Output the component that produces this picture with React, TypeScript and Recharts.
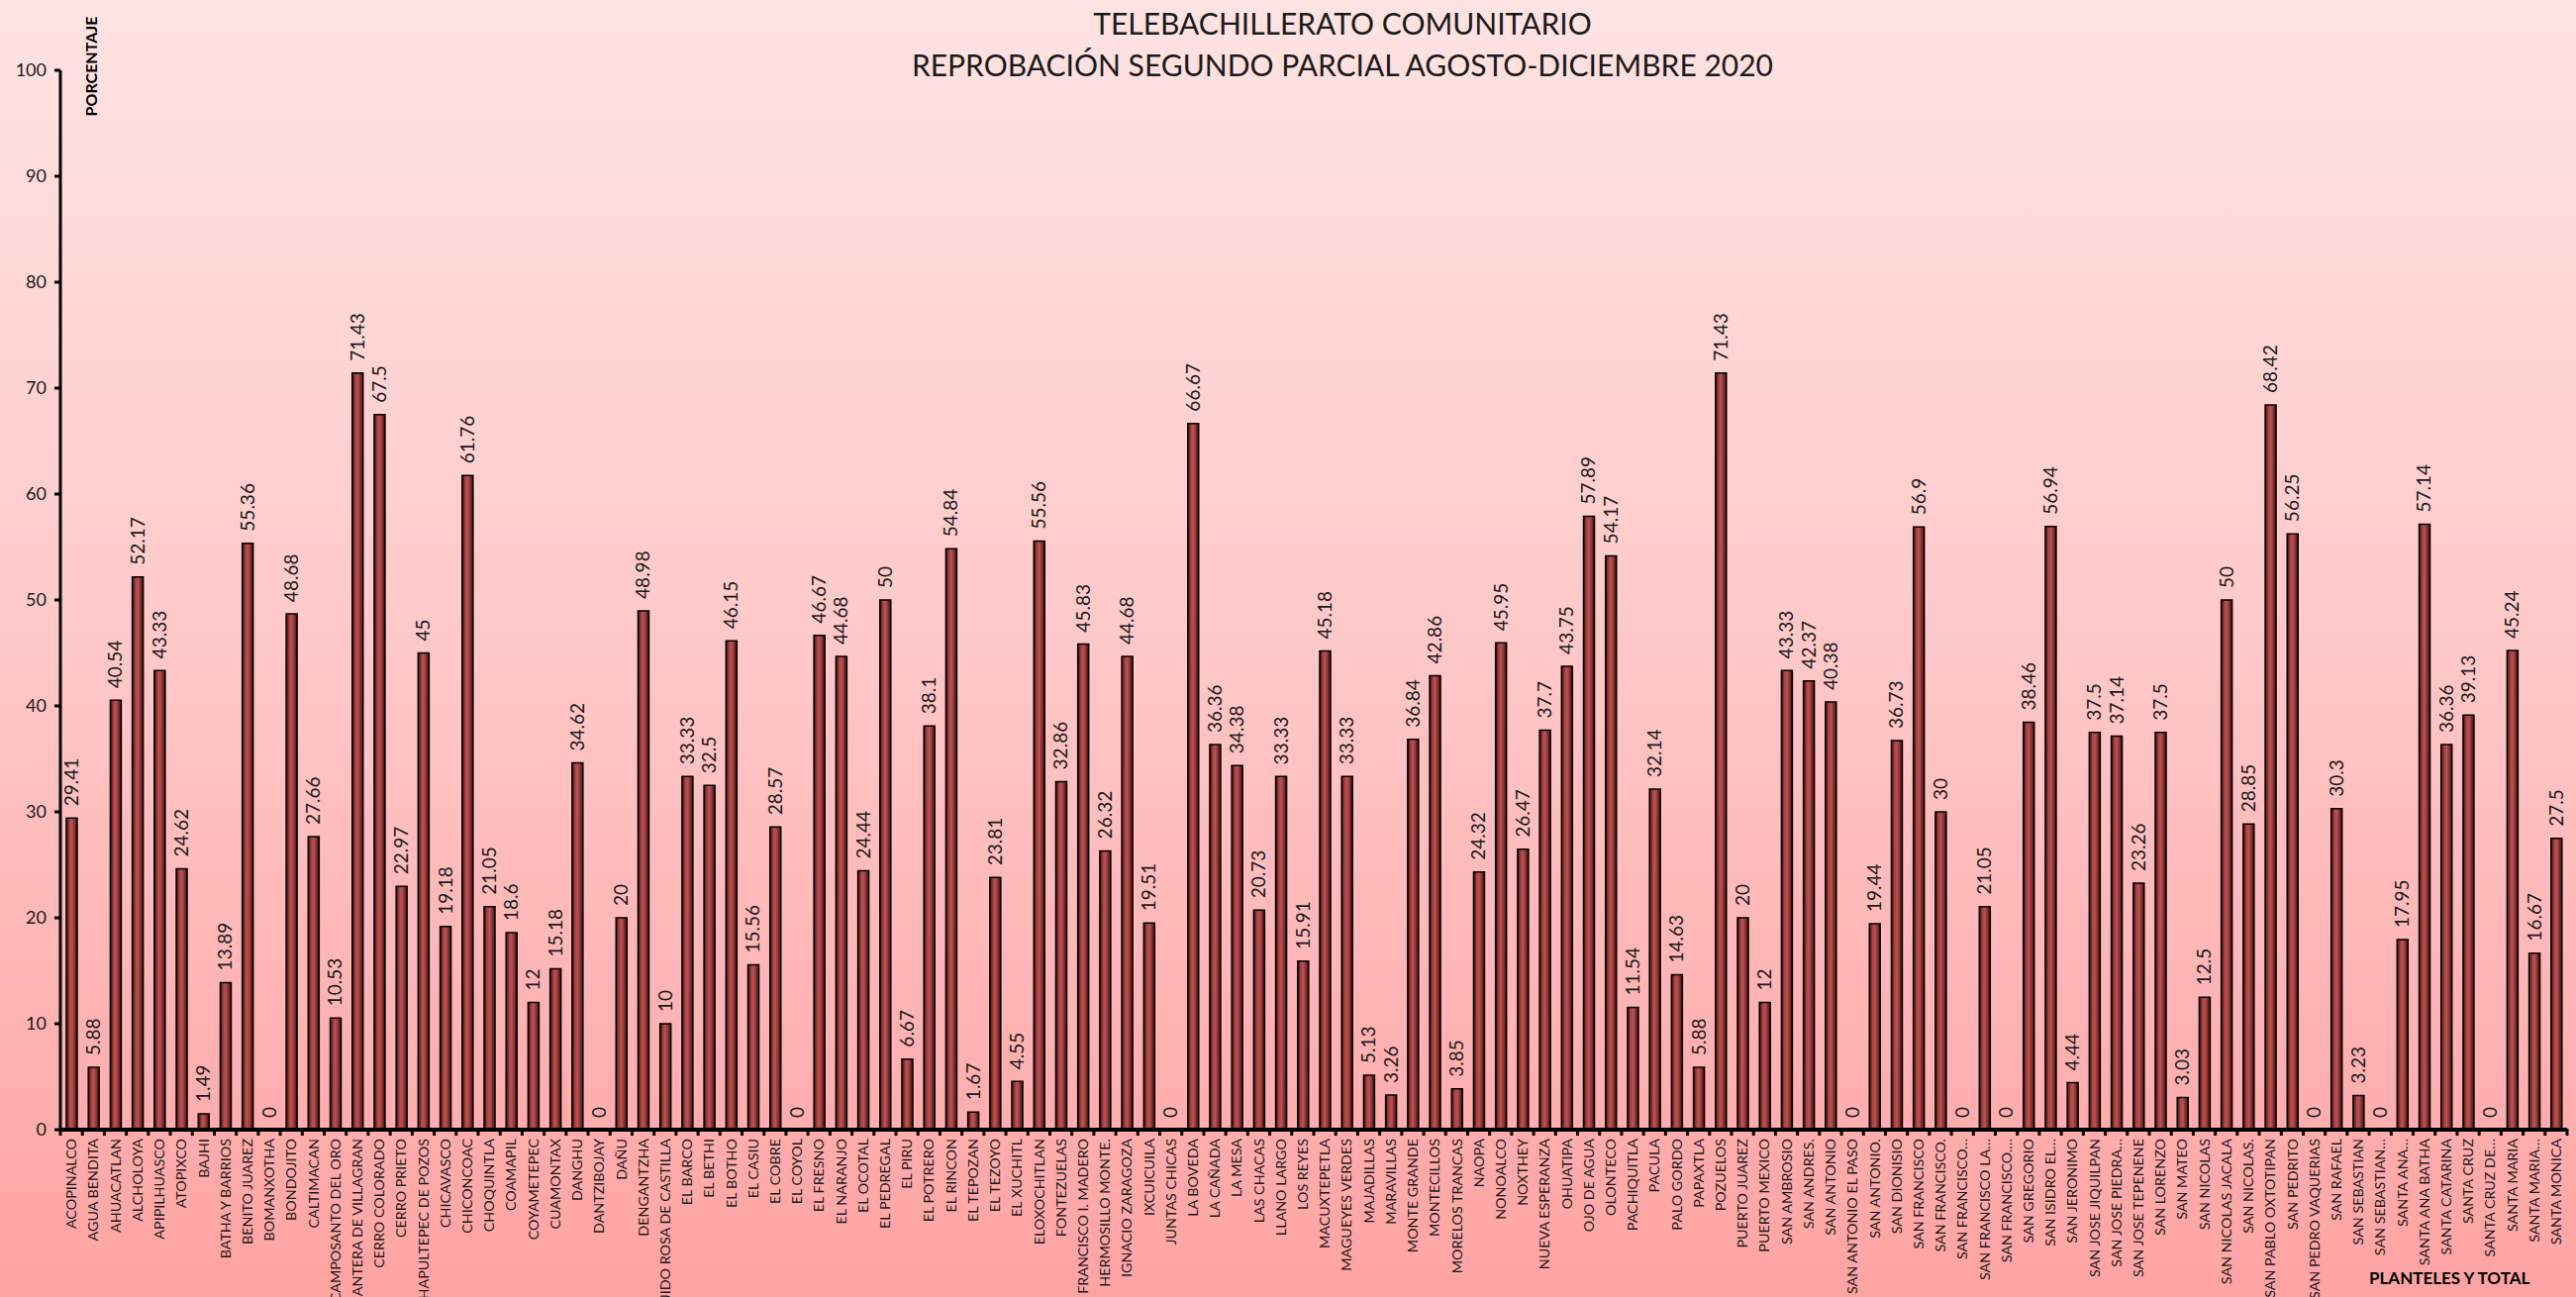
import React from 'react';
import { ComposedChart, Bar, Line, XAxis, YAxis, LabelList } from 'recharts';

const categories: string[] = [
  'ACOPINALCO', 'AGUA BENDITA', 'AHUACATLAN', 'ALCHOLOYA', 'APIPILHUASCO', 'ATOPIXCO', 'BAJHI',
  'BATHA Y BARRIOS', 'BENITO JUAREZ', 'BOMANXOTHA', 'BONDOJITO', 'CALTIMACAN', 'CAMPOSANTO DEL ORO',
  'CANTERA DE VILLAGRAN', 'CERRO COLORADO', 'CERRO PRIETO', 'CHAPULTEPEC DE POZOS', 'CHICAVASCO',
  'CHICONCOAC', 'CHOQUINTLA', 'COAMAPIL', 'COYAMETEPEC', 'CUAMONTAX', 'DANGHU', 'DANTZIBOJAY', 'DAÑU',
  'DENGANTZHA', 'EJIDO ROSA DE CASTILLA', 'EL BARCO', 'EL BETHI', 'EL BOTHO', 'EL CASIU', 'EL COBRE',
  'EL COYOL', 'EL FRESNO', 'EL NARANJO', 'EL OCOTAL', 'EL PEDREGAL', 'EL PIRU', 'EL POTRERO', 'EL RINCON',
  'EL TEPOZAN', 'EL TEZOYO', 'EL XUCHITL', 'ELOXOCHITLAN', 'FONTEZUELAS', 'FRANCISCO I. MADERO',
  'HERMOSILLO MONTE.', 'IGNACIO ZARAGOZA', 'IXCUICUILA', 'JUNTAS CHICAS', 'LA BOVEDA', 'LA CAÑADA',
  'LA MESA', 'LAS CHACAS', 'LLANO LARGO', 'LOS REYES', 'MACUXTEPETLA', 'MAGUEYES VERDES', 'MAJADILLAS',
  'MARAVILLAS', 'MONTE GRANDE', 'MONTECILLOS', 'MORELOS TRANCAS', 'NAOPA', 'NONOALCO', 'NOXTHEY',
  'NUEVA ESPERANZA', 'OHUATIPA', 'OJO DE AGUA', 'OLONTECO', 'PACHIQUITLA', 'PACULA', 'PALO GORDO',
  'PAPAXTLA', 'POZUELOS', 'PUERTO JUAREZ', 'PUERTO MEXICO', 'SAN AMBROSIO', 'SAN ANDRES.', 'SAN ANTONIO',
  'SAN ANTONIO EL PASO', 'SAN ANTONIO.', 'SAN DIONISIO', 'SAN FRANCISCO', 'SAN FRANCISCO.',
  'SAN FRANCISCO…', 'SAN FRANCISCO LA…', 'SAN FRANCISCO.…', 'SAN GREGORIO', 'SAN ISIDRO EL…',
  'SAN JERONIMO', 'SAN JOSE JIQUILPAN', 'SAN JOSE PIEDRA…', 'SAN JOSE TEPENENE', 'SAN LORENZO',
  'SAN MATEO', 'SAN NICOLAS', 'SAN NICOLAS JACALA', 'SAN NICOLAS.', 'SAN PABLO OXTOTIPAN', 'SAN PEDRITO',
  'SAN PEDRO VAQUERIAS', 'SAN RAFAEL', 'SAN SEBASTIAN', 'SAN SEBASTIAN…', 'SANTA ANA…', 'SANTA ANA BATHA',
  'SANTA CATARINA', 'SANTA CRUZ', 'SANTA CRUZ DE…', 'SANTA MARIA', 'SANTA MARIA…', 'SANTA MONICA',
];

const values: number[] = [
  29.41, 5.88, 40.54, 52.17, 43.33, 24.62, 1.49, 13.89, 55.36, 0, 48.68, 27.66, 10.53, 71.43, 67.5,
  22.97, 45, 19.18, 61.76, 21.05, 18.6, 12, 15.18, 34.62, 0, 20, 48.98, 10, 33.33, 32.5, 46.15, 15.56,
  28.57, 0, 46.67, 44.68, 24.44, 50, 6.67, 38.1, 54.84, 1.67, 23.81, 4.55, 55.56, 32.86, 45.83, 26.32,
  44.68, 19.51, 0, 66.67, 36.36, 34.38, 20.73, 33.33, 15.91, 45.18, 33.33, 5.13, 3.26, 36.84, 42.86,
  3.85, 24.32, 45.95, 26.47, 37.7, 43.75, 57.89, 54.17, 11.54, 32.14, 14.63, 5.88, 71.43, 20, 12, 43.33,
  42.37, 40.38, 0, 19.44, 36.73, 56.9, 30, 0, 21.05, 0, 38.46, 56.94, 4.44, 37.5, 37.14, 23.26, 37.5,
  3.03, 12.5, 50, 28.85, 68.42, 56.25, 0, 30.3, 3.23, 0, 17.95, 57.14, 36.36, 39.13, 0, 45.24, 16.67, 27.5,
];

const yTicks: number[] = [0, 10, 20, 30, 40, 50, 60, 70, 80, 90, 100];

const titleLines: string[] = ['TELEBACHILLERATO COMUNITARIO', 'REPROBACIÓN SEGUNDO PARCIAL AGOSTO-DICIEMBRE 2020'];
const yAxisTitle = 'PORCENTAJE';
const xAxisTitle = 'PLANTELES Y TOTAL';

const data = categories.map((name, i) => ({ name, value: values[i] }));

const W = 2602;
const H = 1310;
const FONT = 'Lato, "Open Sans", "Liberation Sans", sans-serif';

const XTick = (props: any) => {
  const { x, y, payload, index } = props;
  const half = payload && payload.offset ? payload.offset : 11.1;
  const axisY = y;
  return (
    <g>
      <line x1={x - half} x2={x - half} y1={axisY - 1} y2={axisY + 6} stroke="#000" strokeWidth={3} />
      {index === categories.length - 1 ? (
        <line x1={x + half} x2={x + half} y1={axisY - 1} y2={axisY + 6} stroke="#000" strokeWidth={3} />
      ) : null}
      <text
        x={x}
        y={axisY + 9}
        transform={`rotate(-90 ${x} ${axisY + 9})`}
        textAnchor="end"
        dy="0.36em"
        fontSize={14.3}
        fill="#1a1a1a"
        fontFamily={FONT}
      >
        {payload.value}
      </text>
    </g>
  );
};

const ValueLabel = (props: any) => {
  const { x, y, width, value } = props;
  const cx = x + (width || 0) / 2;
  const ty = y - 12;
  return (
    <text
      x={cx}
      y={ty}
      transform={`rotate(-90 ${cx} ${ty})`}
      textAnchor="start"
      dy="0.36em"
      fontSize={19}
      fill="#1a1a1a"
      fontFamily={FONT}
    >
      {String(value)}
    </text>
  );
};

export default function App() {
  return (
    <div
      style={{
        position: 'relative',
        width: W,
        height: H,
        background: 'linear-gradient(to bottom, #ffe3e3 0%, #ffc8c8 50%, #ffa3a3 100%)',
        fontFamily: FONT,
        overflow: 'hidden',
      }}
    >
      <style>{`body{margin:0;}`}</style>
      <div
        style={{
          position: 'absolute',
          left: 0,
          width: W,
          top: 2,
          textAlign: 'center',
          paddingLeft: 110,
          boxSizing: 'border-box',
          fontSize: 30,
          lineHeight: '42px',
          color: '#1a1a1a',
        }}
      >
        {titleLines.map((t) => (
          <div key={t}>{t}</div>
        ))}
      </div>
      <div
        style={{
          position: 'absolute',
          left: 92 - 60,
          top: 67 - 10,
          width: 120,
          height: 20,
          lineHeight: '20px',
          textAlign: 'center',
          transform: 'rotate(-90deg)',
          fontSize: 16,
          fontWeight: 700,
          color: '#000',
        }}
      >
        {yAxisTitle}
      </div>
      <div
        style={{
          position: 'absolute',
          left: 2393,
          top: 1280,
          fontSize: 17,
          fontWeight: 700,
          color: '#000',
          whiteSpace: 'nowrap',
        }}
      >
        {xAxisTitle}
      </div>
      <ComposedChart
        width={W}
        height={H}
        data={data}
        margin={{ top: 71, right: 9, bottom: 0, left: 0 }}
        barSize={11}
        style={{ position: 'absolute', left: 0, top: 0 }}
      >
        <defs>
          <linearGradient id="barGrad" x1="0" y1="0" x2="1" y2="0">
            <stop offset="0%" stopColor="#3a0e0e" />
            <stop offset="30%" stopColor="#a84444" />
            <stop offset="50%" stopColor="#b95353" />
            <stop offset="75%" stopColor="#8a3030" />
            <stop offset="100%" stopColor="#3a0e0e" />
          </linearGradient>
        </defs>
        <XAxis
          dataKey="name"
          interval={0}
          height={169}
          tickLine={false}
          tickSize={0}
          tickMargin={0}
          axisLine={{ stroke: '#000', strokeWidth: 4 }}
          tick={<XTick />}
        />
        <YAxis
          domain={[0, 100]}
          ticks={yTicks}
          width={61}
          interval={0}
          tickSize={6}
          tickMargin={8}
          axisLine={{ stroke: '#000', strokeWidth: 3 }}
          tickLine={{ stroke: '#000', strokeWidth: 3 }}
          tick={{ fontSize: 18, fill: '#1a1a1a', fontFamily: FONT }}
        />
        <Bar dataKey="value" fill="url(#barGrad)" stroke="#000" strokeWidth={1.5} isAnimationActive={false} />
        <Line
          dataKey="value"
          stroke="none"
          dot={false}
          activeDot={false}
          legendType="none"
          isAnimationActive={false}
        >
          <LabelList dataKey="value" content={<ValueLabel />} />
        </Line>
      </ComposedChart>
    </div>
  );
}
